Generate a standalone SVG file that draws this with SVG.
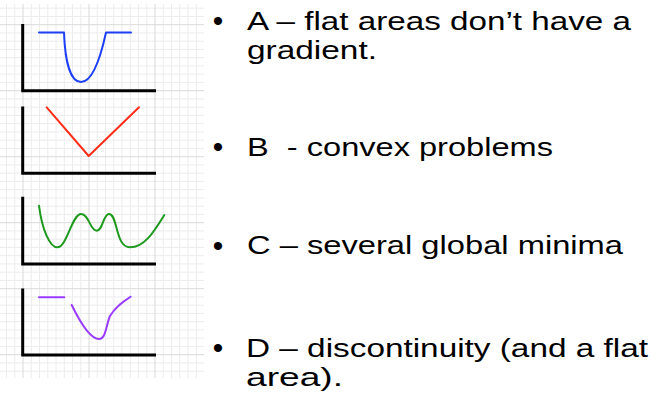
<svg xmlns="http://www.w3.org/2000/svg" width="660" height="394" viewBox="0 0 660 394">
<style>
.minor{fill:none;stroke:#ececec;stroke-width:1}
.major{fill:none;stroke:#dadada;stroke-width:1}
.axis{fill:none;stroke:#000;stroke-width:3}
.curve{fill:none;stroke-width:2;stroke-linecap:round;stroke-linejoin:round}
.t{font-family:"Liberation Sans",Arial,sans-serif;font-size:26px;fill:#000;white-space:pre}
.b{font-family:"Liberation Sans",Arial,sans-serif;font-size:30px;fill:#000;text-anchor:middle}
</style>
<rect width="660" height="394" fill="#fff"/>
<g id="grid">
<path class="minor" d="M6.5,4V378M14.75,4V378M31.25,4V378M39.5,4V378M47.75,4V378M56,4V378M64.25,4V378M72.5,4V378M80.75,4V378M97.25,4V378M105.5,4V378M113.75,4V378M122,4V378M130.25,4V378M138.5,4V378M146.75,4V378M163.25,4V378M171.5,4V378M179.75,4V378M188,4V378M196.25,4V378
M0,8.2H204M0,16.45H204M0,32.95H204M0,41.2H204M0,49.45H204M0,57.7H204M0,65.95H204M0,74.2H204M0,82.45H204M0,98.95H204M0,107.2H204M0,115.45H204M0,123.7H204M0,131.95H204M0,140.2H204M0,148.45H204M0,164.95H204M0,173.2H204M0,181.45H204M0,189.7H204M0,197.95H204M0,206.2H204M0,214.45H204M0,230.95H204M0,239.2H204M0,247.45H204M0,255.7H204M0,263.95H204M0,272.2H204M0,280.45H204M0,296.95H204M0,305.2H204M0,313.45H204M0,321.7H204M0,329.95H204M0,338.2H204M0,346.45H204M0,362.95H204M0,371.2H204"/>
<path class="major" d="M23,4V378M89,4V378M155,4V378M0,24.7H204M0,90.7H204M0,156.7H204M0,222.7H204M0,288.7H204M0,354.7H204"/>
</g>
<g id="plotA">
<path class="axis" d="M22.7,24V90.7H156"/>
<path class="curve" stroke="#1c3ff7" d="M39,32.5H64C65,60 70,82 81,82C92,82 100,60 106,32.5H131"/>
</g>
<g id="plotB">
<path class="axis" d="M22.7,106.5V173.3H156"/>
<path class="curve" stroke="#ff2d1a" stroke-width="1.6" d="M46.7,107.3L88.7,156L139,107.3"/>
</g>
<g id="plotC">
<path class="axis" d="M22.7,196.7V264H156"/>
<path class="curve" stroke="#1d9a1d" d="M39,205.7C42,230 50,247.3 57.3,247.3C67,247.3 72,214 81,214C89,214 90,230.7 96.7,230.7C103,230.7 103,214 109,214C118,214 115,247.3 130,247.3C145,247.3 155,230 164.3,215"/>
</g>
<g id="plotD">
<path class="axis" d="M22.7,288.5V355H156"/>
<path class="curve" stroke="#9a3cff" d="M39,297.3H64.3M71.7,305C80,322 90,339 99,339C106,339 106,325 110,316C116,306 124,301 130.7,296.7"/>
</g>
<g id="connectors"/>
<g id="textA">
<text class="b" x="218" y="31">•</text>
<text class="t"><tspan x="247" y="30" textLength="384" lengthAdjust="spacingAndGlyphs">A – flat areas don’t have a</tspan><tspan x="247" y="59.3" textLength="130" lengthAdjust="spacingAndGlyphs">gradient.</tspan></text>
</g>
<g id="textB">
<text class="b" x="218" y="157">•</text>
<text class="t" x="247" y="155.5" textLength="306" lengthAdjust="spacingAndGlyphs">B  - convex problems</text>
</g>
<g id="textC">
<text class="b" x="218" y="255.5">•</text>
<text class="t" x="247" y="254" textLength="376" lengthAdjust="spacingAndGlyphs">C – several global minima</text>
</g>
<g id="textD">
<text class="b" x="218" y="358">•</text>
<text class="t"><tspan x="246" y="356.5" textLength="402" lengthAdjust="spacingAndGlyphs">D – discontinuity (and a flat</tspan><tspan x="246" y="386" textLength="97" lengthAdjust="spacingAndGlyphs">area).</tspan></text>
</g>
</svg>
